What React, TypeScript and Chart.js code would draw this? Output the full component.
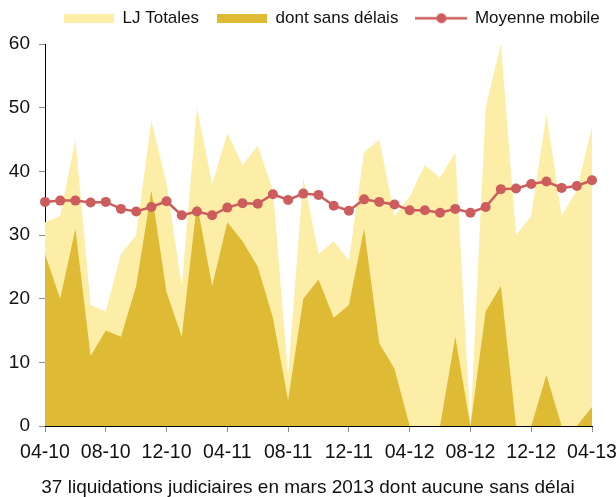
import React, { useEffect, useRef } from 'react';
import { Chart, registerables } from 'chart.js';

Chart.register(...registerables);

const months = [
  '04-10', '05-10', '06-10', '07-10', '08-10', '09-10', '10-10', '11-10', '12-10',
  '01-11', '02-11', '03-11', '04-11', '05-11', '06-11', '07-11', '08-11', '09-11', '10-11', '11-11', '12-11',
  '01-12', '02-12', '03-12', '04-12', '05-12', '06-12', '07-12', '08-12', '09-12', '10-12', '11-12', '12-12',
  '01-13', '02-13', '03-13', '04-13',
];

const totales = [32, 33, 45, 19, 18, 27, 30, 48, 38, 22, 50, 38, 46, 41, 44, 37, 8, 39, 27, 29, 26, 43, 45, 33, 36, 41, 39, 43, 0, 50, 60, 30, 33, 49, 33, 37, 47];
const sansDelai = [27, 20, 31, 11, 15, 14, 22, 37, 21, 14, 35, 22, 32, 29, 25, 17, 4, 20, 23, 17, 19, 31, 13, 9, 0, 0, 0, 14, 0, 18, 22, 0, 0, 8, 0, 0, 3];
const moyenne = [35.2, 35.4, 35.4, 35.1, 35.2, 34.1, 33.7, 34.4, 35.3, 33.1, 33.7, 33.1, 34.3, 35.0, 34.9, 36.4, 35.5, 36.5, 36.3, 34.6, 33.8, 35.6, 35.2, 34.8, 33.9, 33.9, 33.5, 34.1, 33.5, 34.4, 37.2, 37.3, 38.0, 38.4, 37.4, 37.7, 38.6];

const seriesNames = ['LJ Totales', 'dont sans délais', 'Moyenne mobile'];
const titleText = '37 liquidations judiciaires en mars 2013 dont aucune sans délai';

const FONT = "'Liberation Sans', Arial, sans-serif";
const LIGHT = '#FCEEA6';
const DARK = '#DFBA35';
const RED = '#CD5C5C';
const TEXT = '#111111';
const TICK = '#8c8c8c';

function boxIcon(color: string, w: number, h: number) {
  const c = document.createElement('canvas');
  c.width = w;
  c.height = h;
  const g = c.getContext('2d')!;
  g.fillStyle = color;
  g.fillRect(0, 0, w, h);
  return c;
}

function lineIcon(color: string, w: number, h: number) {
  const c = document.createElement('canvas');
  c.width = w;
  c.height = h;
  const g = c.getContext('2d')!;
  g.strokeStyle = color;
  g.lineWidth = 2.5;
  g.beginPath();
  g.moveTo(0, h / 2);
  g.lineTo(w, h / 2);
  g.stroke();
  g.fillStyle = color;
  g.beginPath();
  g.arc(w / 2, h / 2, 5, 0, Math.PI * 2);
  g.fill();
  return c;
}

export default function App() {
  const ref = useRef<HTMLCanvasElement | null>(null);

  useEffect(() => {
    if (!ref.current) return;
    const icons = [boxIcon(LIGHT, 50, 9), boxIcon(DARK, 50, 9), lineIcon(RED, 52, 12)];
    const legendShift = {
      id: 'legendShift',
      afterLayout(chart: any) {
        const lg = chart.legend;
        if (!lg) return;
        const dx = 46 - lg.left;
        lg.left += dx;
        lg.right += dx;
        lg.top = -8.2;
        lg.bottom = lg.top + lg.height;
      },
    };
    const chart = new Chart(ref.current, {
      type: 'line',
      data: {
        labels: months,
        datasets: [
          {
            label: seriesNames[0],
            data: totales,
            fill: 'origin',
            backgroundColor: LIGHT,
            borderColor: 'rgba(0,0,0,0)',
            borderWidth: 1,
            pointRadius: 0,
            tension: 0,
            order: 3,
          },
          {
            label: seriesNames[1],
            data: sansDelai,
            fill: 'origin',
            backgroundColor: DARK,
            borderColor: 'rgba(0,0,0,0)',
            borderWidth: 1,
            pointRadius: 0,
            tension: 0,
            order: 2,
          },
          {
            label: seriesNames[2],
            data: moyenne,
            fill: false,
            borderColor: RED,
            backgroundColor: RED,
            borderWidth: 2.5,
            pointRadius: 5,
            pointBackgroundColor: RED,
            pointBorderWidth: 0,
            tension: 0,
            order: 1,
          },
        ],
      },
      options: {
        responsive: false,
        animation: false,
        events: [],
        layout: { padding: 0 },
        scales: {
          x: {
            type: 'category',
            offset: false,
            grid: {
              display: true,
              drawOnChartArea: false,
              tickLength: 6,
              tickColor: (c: any) => (c.index % 4 === 0 ? TICK : 'rgba(0,0,0,0)'),
            },
            border: { display: true, color: '#000', width: 1 },
            ticks: {
              autoSkip: false,
              maxRotation: 0,
              minRotation: 0,
              padding: 9,
              color: TEXT,
              font: { family: FONT, size: 19.5, lineHeight: 1.2 },
              callback: (_v: any, i: number) => (i % 4 === 0 ? months[i] : ''),
            },
            afterFit: (s: any) => {
              s.paddingRight = 24;
            },
          },
          y: {
            min: 0,
            max: 60,
            ticks: { stepSize: 10, padding: 9, color: TEXT, font: { family: FONT, size: 19 } },
            grid: { drawOnChartArea: false, tickLength: 6, tickColor: TICK },
            border: { display: true, color: '#000', width: 1 },
            afterFit: (s: any) => {
              s.width = 45;
            },
          },
        },
        plugins: {
          legend: {
            display: true,
            position: 'top',
            align: 'start',
            maxHeight: 44,
            labels: {
              usePointStyle: true,
              pointStyleWidth: 50,
              padding: 18,
              color: TEXT,
              font: { family: FONT, size: 17 },
              generateLabels: () =>
                seriesNames.map((t, i) => ({
                  text: t,
                  pointStyle: icons[i] as any,
                  datasetIndex: i,
                  hidden: false,
                  fillStyle: 'rgba(0,0,0,0)',
                  strokeStyle: 'rgba(0,0,0,0)',
                  lineWidth: 0,
                  fontColor: TEXT,
                })),
            },
          },
          title: {
            display: true,
            position: 'bottom',
            text: titleText,
            color: TEXT,
            font: { family: FONT, size: 19, weight: 'normal', lineHeight: 1 },
            padding: { top: 4.6, bottom: 0 },
          },
          tooltip: { enabled: false },
        },
      } as any,
      plugins: [legendShift],
    });
    return () => chart.destroy();
  }, []);

  return (
    <div style={{ position: 'absolute', left: 0, top: 0, width: 616, height: 497 }}>
      <canvas ref={ref} width={616} height={497} style={{ display: 'block' }} />
    </div>
  );
}
